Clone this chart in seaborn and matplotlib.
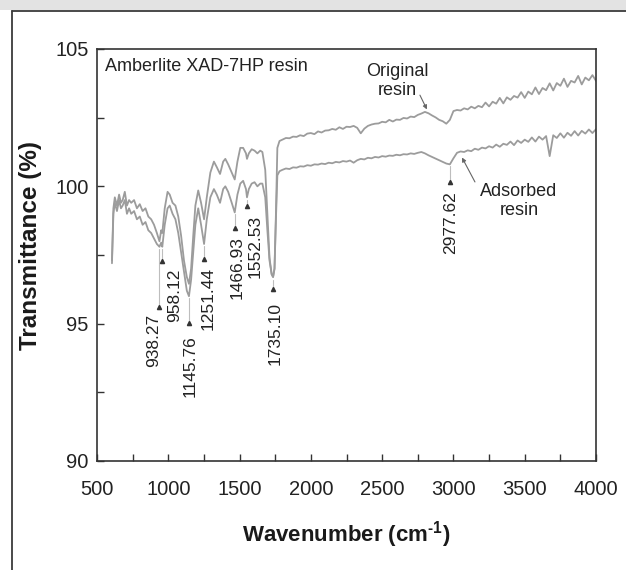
import numpy as np
import pandas as pd
import matplotlib
matplotlib.use("Agg")
import matplotlib.pyplot as plt
from matplotlib.ticker import MultipleLocator
from matplotlib.lines import Line2D
from matplotlib.patches import Rectangle
import seaborn as sns

# ---- spectra (wavenumber in cm-1, transmittance in %) ----
wavenumber = [
    605, 615, 625, 640, 655, 668, 680, 695, 710, 725, 740, 760, 780, 800, 820,
    840, 860, 880, 900, 920, 938, 950, 958, 975, 995, 1010, 1030, 1050, 1070,
    1090, 1110, 1130, 1145, 1160, 1175, 1190, 1210, 1230, 1251, 1270, 1295,
    1320, 1340, 1363, 1385, 1400, 1420, 1445, 1466, 1485, 1505, 1525, 1545,
    1552, 1565, 1585, 1605, 1625, 1645, 1660, 1680, 1695, 1710, 1725, 1735,
    1745, 1755, 1765, 1780, 1800,
    1825, 1850, 1875, 1900, 1925, 1950, 1975, 2000, 2025, 2050, 2075, 2100,
    2125, 2150, 2175, 2200, 2225, 2250, 2275, 2300, 2325, 2350, 2375, 2400,
    2425, 2450, 2475, 2500, 2525, 2550, 2575, 2600, 2625, 2650, 2675, 2700,
    2725, 2750, 2775, 2800, 2825, 2850, 2875, 2900, 2925, 2950, 2975, 3000,
    3025, 3050, 3075, 3100, 3125, 3150, 3175, 3200, 3225, 3250, 3275, 3300,
    3325, 3350, 3375, 3400, 3425, 3450, 3475, 3500, 3525, 3550, 3575, 3600,
    3625, 3650, 3675, 3700, 3725, 3750, 3775, 3800, 3825, 3850, 3875, 3900,
    3925, 3950, 3975, 4000,
]

original_resin = [
    97.3, 99.2, 99.6, 99.3, 99.7, 99.4, 99.5, 99.8, 99.3, 99.5, 99.4, 99.5,
    99.2, 99.35, 99.1, 99.2, 98.9, 98.8, 98.6, 98.3, 98.0, 98.4, 98.3, 99.2,
    99.8, 99.7, 99.4, 99.3, 98.9, 98.2, 97.3, 96.7, 96.45, 97.0, 98.2, 99.3,
    99.85, 99.4, 98.8, 99.6, 100.5, 100.9, 100.7, 100.45, 100.9, 101.0, 100.8,
    100.5, 100.25, 100.9, 101.4, 101.4, 101.2, 101.0, 101.2, 101.35, 101.3,
    101.2, 101.3, 101.25, 100.6, 99.0, 97.4, 96.8, 96.7, 97.0, 99.0, 101.4,
    101.65, 101.7,
    101.76, 101.75, 101.81, 101.80, 101.86, 101.83, 101.92, 101.94, 101.90,
    102.00, 101.96, 102.03, 102.04, 102.09, 102.06, 102.15, 102.09, 102.17,
    102.16, 102.20, 102.13, 101.93, 102.10, 102.20, 102.25, 102.28, 102.29,
    102.35, 102.33, 102.42, 102.36, 102.43, 102.42, 102.49, 102.47, 102.54,
    102.52, 102.60, 102.65, 102.71, 102.66, 102.58, 102.51, 102.42, 102.37,
    102.28, 102.42, 102.74, 102.78, 102.76, 102.84, 102.80, 102.90, 102.84,
    102.93, 102.88, 103.05, 102.91, 103.08, 103.01, 103.22, 103.02, 103.24,
    103.15, 103.29, 103.23, 103.43, 103.22, 103.45, 103.35, 103.60, 103.36,
    103.58, 103.50, 103.75, 103.49, 103.76, 103.66, 103.92, 103.62, 103.84,
    103.78, 104.02, 103.71, 103.96, 103.86, 104.05, 103.84,
]

adsorbed_resin = [
    97.2, 99.0, 99.4, 99.1, 99.5, 99.2, 99.3, 99.5, 99.0, 99.2, 99.0, 99.1,
    98.8, 98.9, 98.6, 98.7, 98.4, 98.3, 98.1, 97.9, 97.8, 97.95, 97.8, 98.6,
    99.2, 99.3, 99.0, 98.8, 98.3, 97.6, 96.9, 96.2, 96.0, 96.6, 97.6, 98.6,
    99.2, 98.6, 97.9, 98.8, 99.6, 99.9, 99.7, 99.4, 99.9, 100.0, 99.8, 99.4,
    99.05, 99.7, 100.1, 100.2, 99.9, 99.6, 99.9, 100.1, 100.15, 100.0, 100.1,
    100.1, 99.6, 98.4, 97.3, 96.8, 96.7, 97.0, 98.8, 100.4, 100.55, 100.6,
    100.65, 100.63, 100.69, 100.68, 100.73, 100.72, 100.77, 100.75, 100.80,
    100.79, 100.83, 100.81, 100.86, 100.84, 100.89, 100.87, 100.92, 100.90,
    100.94, 100.86, 100.95, 101.00, 100.98, 101.04, 101.02, 101.07, 101.05,
    101.10, 101.08, 101.12, 101.11, 101.15, 101.13, 101.17, 101.16, 101.20,
    101.18, 101.22, 101.25, 101.20, 101.13, 101.07, 101.01, 100.95, 100.89,
    100.83, 100.80, 101.02, 101.22, 101.27, 101.25, 101.31, 101.28, 101.37,
    101.33, 101.41, 101.38, 101.46, 101.41, 101.52, 101.44, 101.55, 101.51,
    101.63, 101.50, 101.67, 101.58, 101.70, 101.62, 101.78, 101.63, 101.81,
    101.70, 101.83, 101.10, 101.86, 101.76, 101.93, 101.77, 101.95, 101.84,
    102.01, 101.85, 102.02, 101.92, 102.07, 101.94, 102.08,
]

# ---- labelled absorption bands ----
peak_positions = [938.27, 958.12, 1145.76, 1251.44, 1466.93, 1552.53, 1735.10, 2977.62]
peak_labels = ["938.27", "958.12", "1145.76", "1251.44", "1466.93", "1552.53", "1735.10", "2977.62"]
arrow_levels = [95.6, 97.28, 95.02, 97.35, 98.48, 99.28, 96.26, 100.16]
label_shift_pts = [-4, 9, 1, 3, 1.5, 6, 1.5, 0]   # horizontal nudge of each label
label_gap_pts = [3, 3.5, 7, 3.5, 4, 4, 7.5, 5]      # gap below the arrow tip

x_ticks = [500, 1000, 1500, 2000, 2500, 3000, 3500, 4000]
y_ticks = [90, 95, 100, 105]

df = pd.DataFrame({
    "wavenumber": wavenumber * 2,
    "transmittance": original_resin + adsorbed_resin,
    "sample": ["Original resin"] * len(wavenumber) + ["Adsorbed resin"] * len(wavenumber),
})

sns.set_theme(style="ticks")
plt.rcParams["font.family"] = ["Liberation Sans", "DejaVu Sans"]
# the only math text in the figure is the bold axis-unit superscript
plt.rcParams["mathtext.fontset"] = "custom"
plt.rcParams["mathtext.rm"] = "Liberation Sans:bold"
plt.rcParams["mathtext.bf"] = "Liberation Sans:bold"

W, H = 626, 570
fig = plt.figure(figsize=(W / 100, H / 100), dpi=100)
fig.patch.set_facecolor("white")

# page header band and frame
fig.add_artist(Rectangle((0, 1 - 9.5 / H), 1, 9.5 / H, transform=fig.transFigure,
                         facecolor="#e3e3e3", edgecolor="none"))
fig.add_artist(Line2D([12 / W, 1], [1 - 10.5 / H, 1 - 10.5 / H], transform=fig.transFigure,
                      color="#3a3a3a", lw=1.3))
fig.add_artist(Line2D([12 / W, 12 / W], [0, 1 - 10.5 / H], transform=fig.transFigure,
                      color="#3a3a3a", lw=1.3))

ax = fig.add_axes([97 / W, 1 - 461 / H, 499 / W, 412 / H])
sns.lineplot(data=df, x="wavenumber", y="transmittance", hue="sample",
             palette=["#9c9c9c", "#9c9c9c"], linewidth=1.3, legend=False,
             sort=False, estimator=None, ax=ax)

ax.set_xlim(500, 4000)
ax.set_ylim(90, 105)
ax.set_xticks(x_ticks)
ax.set_yticks(y_ticks)
ax.xaxis.set_minor_locator(MultipleLocator(250))
ax.yaxis.set_minor_locator(MultipleLocator(2.5))
ax.tick_params(which="both", direction="in", length=5, width=1, color="#333333",
               labelsize=14.5, labelcolor="#222222")
ax.tick_params(axis="x", pad=14)
ax.tick_params(axis="y", pad=6)
for s in ax.spines.values():
    s.set_color("#333333")
    s.set_linewidth(1.2)

ax.set_xlabel(r"Wavenumber (cm$^{\text{-}1}$)", fontsize=16, fontweight="bold",
              color="#1a1a1a", labelpad=14)
ax.set_ylabel("Transmittance (%)", fontsize=17.5, fontweight="bold", color="#1a1a1a")
ax.yaxis.set_label_coords(-0.110, 0.522)

ax.text(556, 104.2, "Amberlite XAD-7HP resin", fontsize=13, color="#222222",
        ha="left", va="baseline")

# band markers: thin line from the adsorbed-resin trace down to an arrow tip
for x, lvl, lab, dx, gap in zip(peak_positions, arrow_levels, peak_labels,
                                label_shift_pts, label_gap_pts):
    top = np.interp(x, wavenumber, adsorbed_resin)
    ax.plot([x, x], [top - 0.1, lvl], color="#bdbdbd", lw=0.8, zorder=3)
    ax.plot([x], [lvl], marker="^", ms=3.0, color="#333333", zorder=4)
    ax.annotate(lab, xy=(x, lvl), xytext=(dx, -gap - 2), textcoords="offset points",
                rotation=90, ha="center", va="top", fontsize=12.5, color="#222222")

# trace labels with their pointers
ax.text(2604, 103.83, "Original\nresin", ha="center", va="center", fontsize=13,
        color="#222222", linespacing=1.15)
ax.annotate("", xy=(2814, 102.8), xytext=(2765, 103.32),
            arrowprops=dict(arrowstyle="-|>", color="#666666", lw=0.8,
                            mutation_scale=6, shrinkA=0, shrinkB=0))
ax.text(3459, 99.46, "Adsorbed\nresin", ha="center", va="center", fontsize=13,
        color="#222222", linespacing=1.15)
ax.annotate("", xy=(3060, 101.05), xytext=(3151, 100.16),
            arrowprops=dict(arrowstyle="-|>", color="#666666", lw=0.8,
                            mutation_scale=6, shrinkA=0, shrinkB=0))

fig.savefig("out.png", dpi=100)
